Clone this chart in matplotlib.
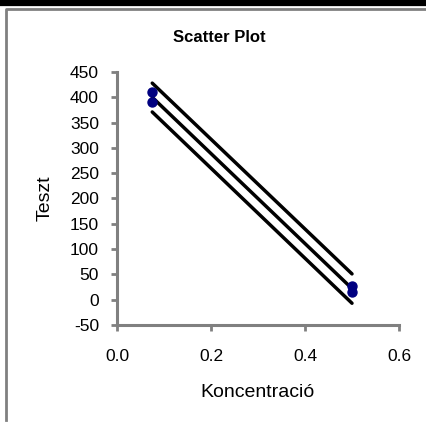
import numpy as np
import matplotlib.pyplot as plt
from matplotlib.lines import Line2D

plt.rcParams['font.family'] = ['Liberation Sans', 'DejaVu Sans']
plt.rcParams['axes.unicode_minus'] = False

# measured points
konc = [0.075, 0.075, 0.5, 0.5]
teszt = [410, 390, 28, 15]

# fitted line and its bands (read at the two x ends)
line_x = [0.075, 0.5]
fit_y = [400, 22]
upper_y = [428, 51]
lower_y = [371, -7]

y_ticks = list(range(-50, 451, 50))
x_ticks = [0.0, 0.2, 0.4, 0.6]

fig = plt.figure(figsize=(4.27, 4.23), dpi=100)
ax = fig.add_axes([117/427, 1 - 325/423, 282/427, 253/423])

for ys in (upper_y, fit_y, lower_y):
    ax.plot(line_x, ys, color='black', lw=2.5, solid_capstyle='round', zorder=2)
ax.scatter(konc, teszt, s=42, color='#000080', zorder=3)

ax.set_xlim(0, 0.6)
ax.set_ylim(-50, 450)
ax.set_xticks(x_ticks)
ax.set_xticklabels(['%.1f' % v for v in x_ticks])
ax.set_yticks(y_ticks)

for s in ('top', 'right'):
    ax.spines[s].set_visible(False)
for s in ('left', 'bottom'):
    ax.spines[s].set_color('#808080')
    ax.spines[s].set_linewidth(2.2)
ax.tick_params(axis='both', colors='#808080', width=2, length=4, labelcolor='black',
               labelsize=12.5)
ax.tick_params(axis='y', pad=9)
ax.tick_params(axis='x', pad=13)

ax.set_xlabel('Koncentració', fontsize=14, labelpad=15)
ax.set_ylabel('Teszt', fontsize=14, labelpad=12)

fig.text(219/427, 1 - 38/423, 'Scatter Plot', ha='center', va='center',
         fontsize=12, fontweight='bold')

# outer frame: black band on top, grey border
fig.add_artist(Line2D([0, 1], [1 - 3/423, 1 - 3/423], color='black', lw=4.5,
                      transform=fig.transFigure))
fig.add_artist(Line2D([6/427, 6/427, 1], [1 - 420/423, 1 - 9.5/423, 1 - 9.5/423],
                      color='#808080', lw=2, transform=fig.transFigure))

fig.savefig('out.png', dpi=100)
